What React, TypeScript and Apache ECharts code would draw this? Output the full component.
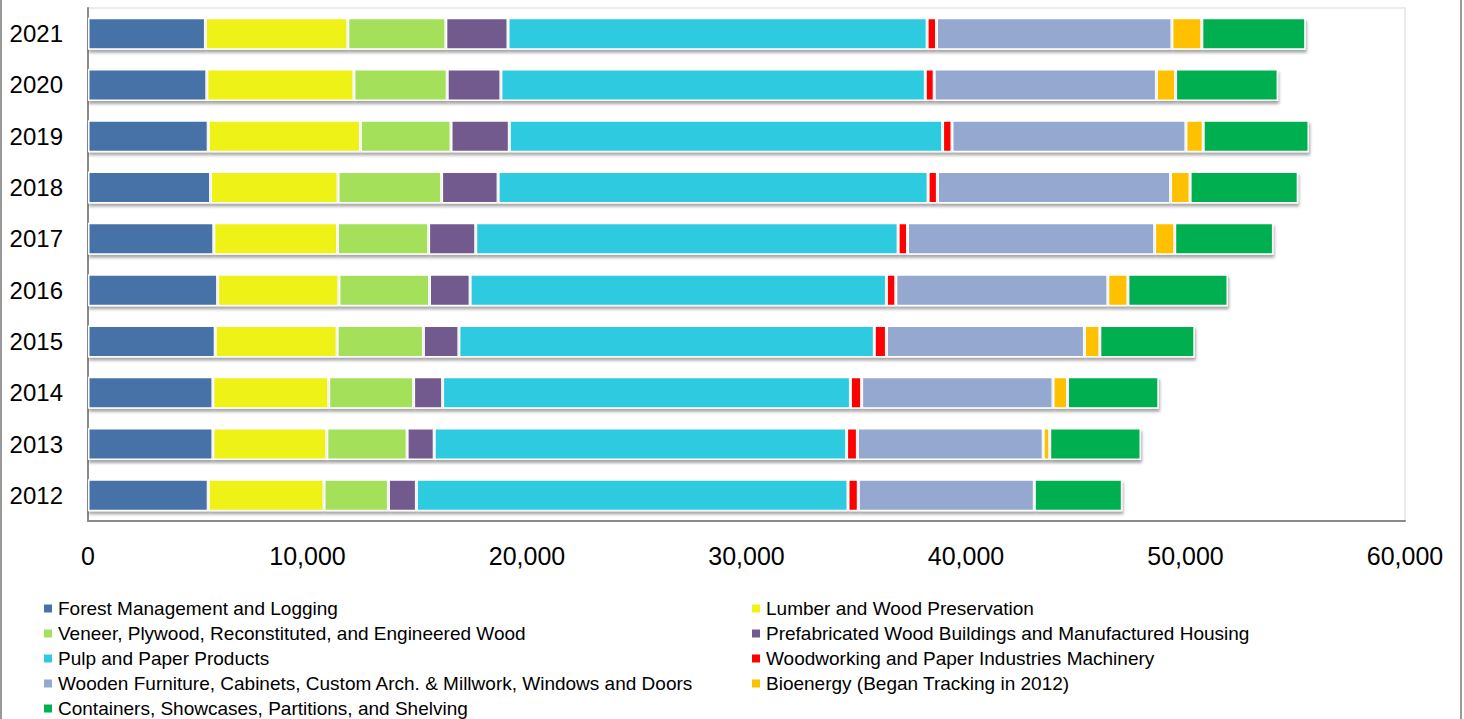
import React, { useEffect, useRef } from "react";
import * as echarts from "echarts";

const years = ["2012", "2013", "2014", "2015", "2016", "2017", "2018", "2019", "2020", "2021"];

const forestManagement = [5476, 5690, 5690, 5795, 5904, 5731, 5581, 5476, 5412, 5349];
const lumber = [5276, 5189, 5276, 5554, 5527, 5636, 5809, 6934, 6702, 6487];
const veneer = [2934, 3659, 3868, 3931, 4127, 4150, 4719, 4128, 4250, 4465];
const prefab = [1275, 1234, 1321, 1617, 1850, 2146, 2574, 2656, 2447, 2833];
const pulpPaper = [19663, 18788, 18578, 18925, 18966, 19244, 19590, 19740, 19335, 19094];
const machinery = [469, 492, 511, 552, 428, 428, 424, 428, 405, 428];
const furniture = [8019, 8465, 8720, 9020, 9658, 11258, 10620, 10656, 10123, 10724];
const bioenergy = [0, 296, 660, 702, 916, 915, 892, 788, 875, 1363];
const containers = [4009, 4160, 4160, 4328, 4560, 4497, 4925, 4820, 4670, 4733];

const seriesNames = [
  "Forest Management and Logging",
  "Lumber and Wood Preservation",
  "Veneer, Plywood, Reconstituted, and Engineered Wood",
  "Prefabricated Wood Buildings and Manufactured Housing",
  "Pulp and Paper Products",
  "Woodworking and Paper Industries Machinery",
  "Wooden Furniture, Cabinets, Custom Arch. & Millwork, Windows and Doors",
  "Bioenergy (Began Tracking in 2012)",
  "Containers, Showcases, Partitions, and Shelving",
];
const seriesValues = [forestManagement, lumber, veneer, prefab, pulpPaper, machinery, furniture, bioenergy, containers];
const seriesColors = ["#4672A7", "#EEF215", "#A5E05A", "#735A8E", "#2ECADF", "#FF0000", "#95A9D0", "#FFC000", "#00AF50"];

const xTicks = { min: 0, max: 60000, interval: 10000 };

export default function App() {
  const ref = useRef<HTMLDivElement>(null);
  useEffect(() => {
    document.body.style.margin = "0";
    const chart = echarts.init(ref.current!, null, { renderer: "svg" });
    const legendText = { fontSize: 19, color: "#000", fontFamily: "Liberation Sans, Arial, sans-serif" };
    const legendBase = {
      orient: "vertical",
      top: 599,
      height: 120,
      padding: 0,
      itemWidth: 10,
      itemHeight: 10,
      itemGap: 6,
      icon: "rect",
      textStyle: legendText,
    };
    chart.setOption({
      animation: false,
      backgroundColor: "#fff",
      color: seriesColors,
      grid: {
        left: 88,
        right: 59,
        top: 8,
        bottom: 198,
        show: true,
        borderColor: "#e6e6e6",
        borderWidth: 1.5,
        backgroundColor: "transparent",
        containLabel: false,
        outerBoundsMode: "none",
      },
      xAxis: {
        type: "value",
        min: xTicks.min,
        max: xTicks.max,
        interval: xTicks.interval,
        axisLine: { show: true, lineStyle: { color: "#8a8a8a", width: 2 } },
        axisTick: { show: false },
        splitLine: { show: false },
        axisLabel: {
          fontSize: 25,
          color: "#000",
          fontFamily: "Liberation Sans, Arial, sans-serif",
          margin: 22,
          formatter: (v: number) => v.toLocaleString("en-US"),
        },
      },
      yAxis: {
        type: "category",
        data: years,
        axisLine: { show: true, lineStyle: { color: "#8a8a8a", width: 2 } },
        axisTick: { show: false },
        splitLine: { show: false },
        axisLabel: {
          fontSize: 24,
          color: "#000",
          fontFamily: "Liberation Sans, Arial, sans-serif",
          margin: 25,
        },
      },
      legend: [
        {
          ...legendBase,
          left: 42,
          data: [seriesNames[0], seriesNames[2], seriesNames[4], seriesNames[6], seriesNames[8]],
        },
        {
          ...legendBase,
          left: 750,
          data: [seriesNames[1], seriesNames[3], seriesNames[5], seriesNames[7]],
        },
      ],
      graphic: [
        { type: "line", shape: { x1: 1, y1: 0, x2: 1, y2: 719 }, style: { stroke: "#9a9a9a", lineWidth: 2 } },
        { type: "line", shape: { x1: 1461, y1: 0, x2: 1461, y2: 719 }, style: { stroke: "#9a9a9a", lineWidth: 2 } },
      ],
      series: seriesNames.map((name, i) => ({
        name,
        type: "bar",
        stack: "total",
        barWidth: 32,
        data: seriesValues[i],
        itemStyle: {
          color: seriesColors[i],
          borderColor: "#ffffff",
          borderWidth: 1.5,
          shadowColor: "rgba(0,0,0,0.35)",
          shadowBlur: 3,
          shadowOffsetX: 1,
          shadowOffsetY: 3,
        },
        emphasis: { disabled: true },
      })),
    });
    return () => chart.dispose();
  }, []);
  return <div ref={ref} style={{ width: 1464, height: 719 }} />;
}
